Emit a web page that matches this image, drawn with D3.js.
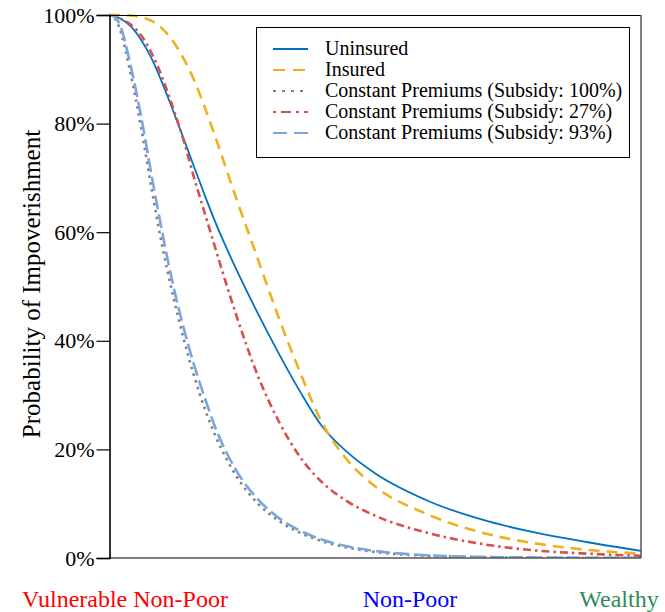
<!DOCTYPE html>
<html>
<head>
<meta charset="utf-8">
<script src="https://cdn.jsdelivr.net/npm/d3@7"></script>
<style>
  html, body { margin: 0; padding: 0; background: #fff; }
  svg { display: block; }
  text { font-family: "Liberation Serif", "Times New Roman", serif; }
</style>
</head>
<body>
<svg id="chart" width="665" height="612"></svg>
<script>
// ---- data ----
const xs = [0, 1, 2, 4, 6, 8, 10, 12, 14, 16, 18, 20, 24, 28, 32, 36, 40, 45, 50, 60, 70, 80, 90, 100];
const uninsured = [100, 99.8, 99.4, 98, 95.5, 92, 87.5, 82.5, 77.3, 72, 66.8, 61.8, 53, 45, 37.5, 30.5, 24.3, 19.3, 15.6, 10.5, 7.1, 4.7, 2.9, 1.3];
const insured   = [100, 100, 100, 99.9, 99.6, 98.9, 97.5, 95.2, 92, 88, 83, 77.5, 66, 55, 44, 34, 25, 17.8, 13.2, 8, 4.7, 2.7, 1.5, 0.8];
const sub100    = [100, 99.5, 97.5, 89.5, 79.5, 68, 57.5, 48.5, 40.5, 33.5, 27.5, 22.5, 15, 10, 6.8, 4.6, 3.1, 1.9, 1.1, 0.4, 0.15, 0.05, 0, 0];
const sub27     = [100, 99.8, 99.4, 98.3, 96.3, 93, 88.5, 83, 77, 70, 63.5, 57, 44.5, 33.5, 25, 18.5, 14, 10.3, 7.8, 4.6, 2.6, 1.4, 0.8, 0.4];
const sub93     = [100, 99.7, 98.3, 91, 81.5, 70.5, 60, 50.5, 42.5, 35.5, 29.5, 24, 16, 10.8, 7.3, 5, 3.4, 2.1, 1.3, 0.5, 0.2, 0.1, 0.05, 0];
const seriesNames = ["Uninsured", "Insured", "Constant Premiums (Subsidy: 100%)", "Constant Premiums (Subsidy: 27%)", "Constant Premiums (Subsidy: 93%)"];
const yTicks = [0, 20, 40, 60, 80, 100];
const yTickLabels = ["0%", "20%", "40%", "60%", "80%", "100%"];
const groupLabels = ["Vulnerable Non-Poor", "Non-Poor", "Wealthy"];

// ---- styles ----
const styles = [
  { color: "#0072BD", width: 1.8, dash: null,          legendDash: null },
  { color: "#EDB120", width: 2.6, dash: "11,7",        legendDash: "12,8" },
  { color: "#808080", width: 2.6, dash: "2.5,4.5",     legendDash: "3,6" },
  { color: "#D6504D", width: 2.6, dash: "8,4,2.5,4",   legendDash: "3,5,10,5" },
  { color: "#7AA6DE", width: 2.6, dash: "14,5",        legendDash: "14,7" }
];

const svg = d3.select("#chart");
const m = { left: 109, right: 641, top: 15, bottom: 558 };

const x = d3.scaleLinear().domain([0, 100]).range([m.left, m.right]);
const y = d3.scaleLinear().domain([0, 100]).range([m.bottom, m.top]);

const allSeries = [uninsured, insured, sub100, sub27, sub93];

const line = d3.line()
  .x((d, i) => x(xs[i]))
  .y(d => y(d))
  .curve(d3.curveMonotoneX);

svg.append("clipPath").attr("id", "clip")
  .append("rect").attr("x", m.left).attr("y", m.top - 3)
  .attr("width", m.right - m.left).attr("height", m.bottom - m.top + 3);

const plot = svg.append("g").attr("clip-path", "url(#clip)");
const order = [0, 1, 3, 2, 4];
order.forEach(k => {
  plot.append("path")
    .datum(allSeries[k])
    .attr("d", line)
    .attr("fill", "none")
    .attr("stroke", styles[k].color)
    .attr("stroke-width", styles[k].width)
    .attr("stroke-dasharray", styles[k].dash);
});

// frame
svg.append("line").attr("x1", m.left).attr("x2", m.right).attr("y1", m.top + 0.5).attr("y2", m.top + 0.5)
  .attr("stroke", "#000").attr("stroke-width", 1.2);
svg.append("line").attr("x1", m.right).attr("x2", m.right).attr("y1", m.top).attr("y2", m.bottom)
  .attr("stroke", "#555").attr("stroke-width", 1.5);
svg.append("line").attr("x1", m.left).attr("x2", m.right).attr("y1", m.bottom).attr("y2", m.bottom)
  .attr("stroke", "#555").attr("stroke-width", 1.5);

// y axis
const yAxis = d3.axisLeft(y).tickValues(yTicks).tickFormat((d, i) => yTickLabels[i])
  .tickSize(13).tickPadding(2);
const gy = svg.append("g").attr("transform", `translate(${m.left + 0.5},0)`).call(yAxis);
gy.select(".domain").attr("stroke", "#000").attr("stroke-width", 1.6);
gy.selectAll(".tick line").attr("stroke", "#000").attr("stroke-width", 1.2);
gy.selectAll(".tick text").attr("font-family", "Liberation Serif").attr("font-size", 22).attr("fill", "#000");

// y label
svg.append("text")
  .attr("transform", "translate(40,284) rotate(-90)")
  .attr("text-anchor", "middle")
  .attr("font-size", 25)
  .attr("fill", "#000")
  .text("Probability of Impoverishment");

// group labels
const gColors = ["#ff0000", "#0000ff", "#2e8b57"];
const gX = [125, 410, 619];
groupLabels.forEach((t, i) => {
  svg.append("text").attr("x", gX[i]).attr("y", 607).attr("text-anchor", "middle")
    .attr("font-size", 24).attr("fill", gColors[i]).text(t);
});

// legend
const lg = svg.append("g");
lg.append("rect").attr("x", 256.5).attr("y", 27.5).attr("width", 373).attr("height", 130)
  .attr("fill", "#fff").attr("stroke", "#000").attr("stroke-width", 1);
const rowY = [49, 70, 91, 112, 133];
seriesNames.forEach((name, i) => {
  lg.append("line").attr("x1", 273).attr("x2", 308).attr("y1", rowY[i]).attr("y2", rowY[i])
    .attr("stroke", styles[i].color).attr("stroke-width", i === 0 ? 1.8 : 2.2)
    .attr("stroke-dasharray", styles[i].legendDash);
  lg.append("text").attr("x", 325).attr("y", rowY[i] + 6).attr("font-size", 20)
    .attr("fill", "#000").text(name);
});
</script>
</body>
</html>
